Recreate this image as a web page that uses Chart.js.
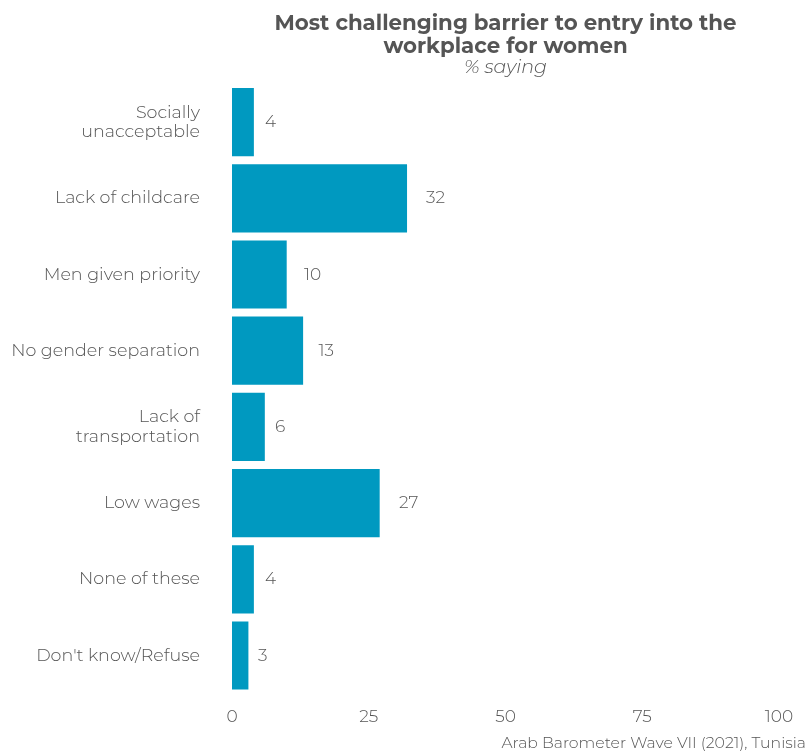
<!DOCTYPE html>
<html>
<head>
<meta charset="utf-8">
<script src="https://cdn.jsdelivr.net/npm/chart.js@4/dist/chart.umd.min.js"></script>
<style>
  html, body { margin: 0; padding: 0; background: #fff; }
  #wrap { width: 809px; height: 751px; }
</style>
</head>
<body>
<div id="wrap"><canvas id="bar-chart"></canvas></div>
<script>
const categories = [
  ['Socially', 'unacceptable'],
  'Lack of childcare',
  'Men given priority',
  'No gender separation',
  ['Lack of', 'transportation'],
  'Low wages',
  'None of these',
  "Don't know/Refuse"
]
const values = [4, 32, 10, 13, 6, 27, 4, 3]
const xTicks = [0, 25, 50, 75, 100]

const titleLines = ['Most challenging barrier to entry into the', 'workplace for women']
const subtitle = '% saying'
const caption = 'Arab Barometer Wave VII (2021), Tunisia'

const FONT = "Montserrat, 'Open Sans', sans-serif"
const GREY = '#555555'

// title, subtitle, caption and value labels
const extras = {
  id: 'extras',
  afterDraw(chart) {
    const { ctx, chartArea } = chart
    const mid = (chartArea.left + chartArea.right) / 2
    ctx.save()
    ctx.fillStyle = GREY
    ctx.textAlign = 'center'
    ctx.textBaseline = 'middle'
    ctx.font = `bold 21.3px ${FONT}`
    titleLines.forEach((t, i) => ctx.fillText(t, mid, 24 + i * 23))
    ctx.font = `italic 300 19px ${FONT}`
    ctx.fillText(subtitle, mid, 67)

    ctx.font = `300 15.7px ${FONT}`
    ctx.textAlign = 'right'
    ctx.fillText(caption, 806, 743)

    ctx.font = `300 17px ${FONT}`
    ctx.textAlign = 'left'
    const meta = chart.getDatasetMeta(0)
    meta.data.forEach((bar, i) => {
      const w = ctx.measureText(String(values[i])).width
      ctx.fillText(values[i], bar.x + w, bar.y)
    })
    ctx.restore()
  }
}

new Chart(document.getElementById('bar-chart'), {
  type: 'bar',
  data: {
    labels: categories,
    datasets: [{
      data: values,
      backgroundColor: '#0099c0',
      borderWidth: 0,
      categoryPercentage: 1,
      barPercentage: 0.895
    }]
  },
  options: {
    indexAxis: 'y',
    responsive: true,
    maintainAspectRatio: false,
    animation: false,
    layout: { padding: { top: 84, right: 30, bottom: 11, left: 0 } },
    scales: {
      x: {
        min: 0,
        max: 100,
        afterBuildTicks: axis => { axis.ticks = xTicks.map(v => ({ value: v })) },
        grid: { display: false, drawTicks: false },
        border: { display: false },
        ticks: { color: GREY, padding: 13, maxRotation: 0, font: { family: FONT, size: 17, weight: 300 } }
      },
      y: {
        afterFit: axis => { axis.width = 232 },
        grid: { display: false, drawTicks: false },
        border: { display: false },
        ticks: { color: GREY, padding: 32, font: { family: FONT, size: 17.5, weight: 300, lineHeight: 1.1 } }
      }
    },
    plugins: {
      legend: { display: false },
      tooltip: { enabled: false }
    }
  },
  plugins: [extras]
})
</script>
</body>
</html>
